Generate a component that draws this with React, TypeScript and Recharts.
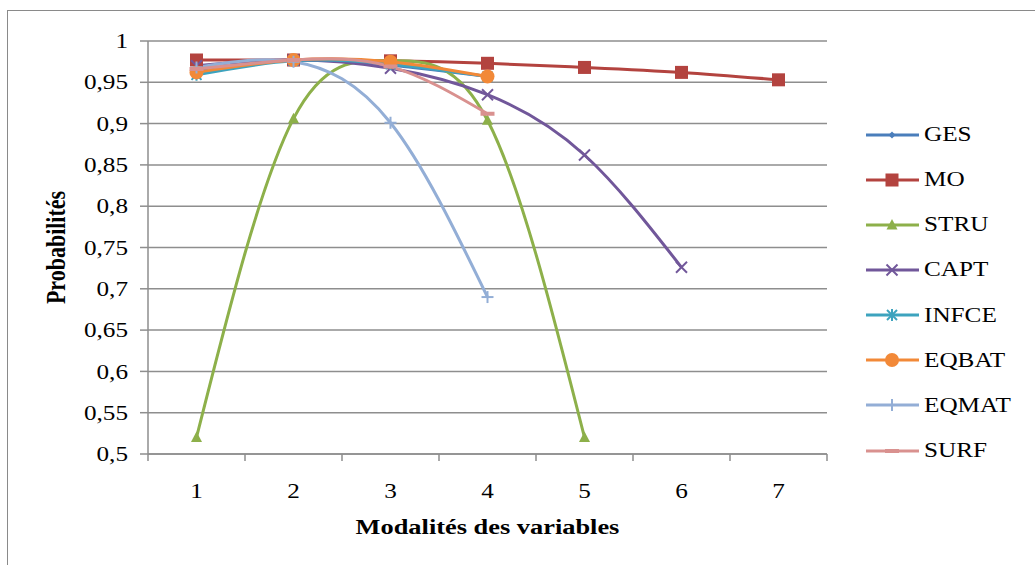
import React from 'react'
import { LineChart, Line, XAxis, YAxis, CartesianGrid } from 'recharts'

// Modalités (x) and probabilities
const modalites = [1, 2, 3, 4, 5, 6, 7]
const ges = [0.963, 0.977, 0.971, 0.957]
const mo = [0.977, 0.977, 0.976, 0.973, 0.968, 0.962, 0.953]
const stru = [0.52, 0.906, 0.976, 0.904, 0.52]
const capt = [0.97, 0.977, 0.967, 0.935, 0.862, 0.726]
const infce = [0.959, 0.976, 0.972, 0.957]
const eqbat = [0.962, 0.977, 0.975, 0.957]
const eqmat = [0.968, 0.975, 0.901, 0.69]
const surf = [0.966, 0.977, 0.969, 0.912]

const yTicks = [0.5, 0.55, 0.6, 0.65, 0.7, 0.75, 0.8, 0.85, 0.9, 0.95, 1]
// integer ticks carry labels, half ticks carry the tick marks between categories
const xTicks = [0.5, 1, 1.5, 2, 2.5, 3, 3.5, 4, 4.5, 5, 5.5, 6, 6.5, 7, 7.5]

const SERIES = [
  { key: 'GES', values: ges, color: '#4A7EBB', marker: 'diamond' },
  { key: 'MO', values: mo, color: '#B3433F', marker: 'square' },
  { key: 'STRU', values: stru, color: '#8DB04A', marker: 'triangle' },
  { key: 'CAPT', values: capt, color: '#71579A', marker: 'x' },
  { key: 'INFCE', values: infce, color: '#3DA3BE', marker: 'star' },
  { key: 'EQBAT', values: eqbat, color: '#F28938', marker: 'circle' },
  { key: 'EQMAT', values: eqmat, color: '#93AED6', marker: 'plus' },
  { key: 'SURF', values: surf, color: '#D9918F', marker: 'dash' },
]

const data = modalites.map((m, i) => {
  const row: Record<string, number | undefined> = { x: m }
  SERIES.forEach(s => {
    row[s.key] = s.values[i]
  })
  return row
})

const FONT = '"Liberation Serif", "Times New Roman", serif'
const GRID = '#8e8e8e'
const STRETCH = 1.2

function Marker({ type, cx, cy, color }: { type: string; cx: number; cy: number; color: string }) {
  switch (type) {
    case 'diamond':
      return <path d={`M${cx},${cy - 3.5}L${cx + 3.5},${cy}L${cx},${cy + 3.5}L${cx - 3.5},${cy}Z`} fill={color} />
    case 'square':
      return <rect x={cx - 6.5} y={cy - 6.5} width={13} height={13} fill={color} />
    case 'triangle':
      return <path d={`M${cx},${cy - 6}L${cx + 5.5},${cy + 4.5}L${cx - 5.5},${cy + 4.5}Z`} fill={color} />
    case 'x':
      return (
        <g stroke={color} strokeWidth={2}>
          <line x1={cx - 5.5} y1={cy - 5.5} x2={cx + 5.5} y2={cy + 5.5} />
          <line x1={cx - 5.5} y1={cy + 5.5} x2={cx + 5.5} y2={cy - 5.5} />
        </g>
      )
    case 'star':
      return (
        <g stroke={color} strokeWidth={2}>
          <line x1={cx - 5} y1={cy - 5} x2={cx + 5} y2={cy + 5} />
          <line x1={cx - 5} y1={cy + 5} x2={cx + 5} y2={cy - 5} />
          <line x1={cx} y1={cy - 6} x2={cx} y2={cy + 6} />
        </g>
      )
    case 'circle':
      return <circle cx={cx} cy={cy} r={7} fill={color} />
    case 'plus':
      return (
        <g stroke={color} strokeWidth={2}>
          <line x1={cx - 6} y1={cy} x2={cx + 6} y2={cy} />
          <line x1={cx} y1={cy - 6} x2={cx} y2={cy + 6} />
        </g>
      )
    case 'dash':
      return <line x1={cx - 7} y1={cy} x2={cx + 7} y2={cy} stroke={color} strokeWidth={4} />
    default:
      return null
  }
}

const makeDot = (type: string, color: string) => (props: any) => {
  const { cx, cy, index, value } = props
  if (value == null || cx == null || cy == null) return <g key={`n-${index}`} />
  return (
    <g key={`d-${index}`}>
      <Marker type={type} cx={cx} cy={cy} color={color} />
    </g>
  )
}

const YTick = (props: any) => {
  const { x, y, payload } = props
  return (
    <g transform={`translate(${x},${y}) scale(${STRETCH},1)`}>
      <text textAnchor="end" dy="0.34em" fontFamily={FONT} fontSize={21} fill="#000">
        {String(payload.value).replace('.', ',')}
      </text>
    </g>
  )
}

const XTick = (props: any) => {
  const { x, y, payload } = props
  if (!Number.isInteger(payload.value)) {
    return <line x1={x} y1={y} x2={x} y2={y + 7} stroke={GRID} strokeWidth={1.5} />
  }
  return (
    <g transform={`translate(${x},${y + 44}) scale(${STRETCH},1)`}>
      <text textAnchor="middle" fontFamily={FONT} fontSize={21} fill="#000">
        {payload.value}
      </text>
    </g>
  )
}

const XTitle = (props: any) => {
  const { viewBox } = props
  const cx = viewBox.x + viewBox.width / 2
  return (
    <g transform={`translate(${cx},534) scale(${STRETCH},1)`}>
      <text textAnchor="middle" fontFamily={FONT} fontSize={22} fontWeight="bold" fill="#000">
        Modalités des variables
      </text>
    </g>
  )
}

const YTitle = (props: any) => {
  const { viewBox } = props
  const cy = viewBox.y + viewBox.height / 2
  return (
    <g transform={`translate(65,${cy}) scale(${STRETCH},1) rotate(-90)`}>
      <text textAnchor="middle" fontFamily={FONT} fontSize={22} fontWeight="bold" fill="#000">
        Probabilités
      </text>
    </g>
  )
}

function LegendBox() {
  return (
    <div style={{ position: 'absolute', left: 866, top: 112, display: 'flex', flexDirection: 'column' }}>
      {SERIES.map(s => (
        <div key={s.key} style={{ height: 45.15, display: 'flex', alignItems: 'center' }}>
          <svg width={54} height={20} style={{ display: 'block' }}>
            <line x1={0} y1={10} x2={53} y2={10} stroke={s.color} strokeWidth={3} />
            <Marker type={s.marker} cx={26} cy={10} color={s.color} />
          </svg>
          <span
            style={{
              fontFamily: FONT,
              fontSize: 21,
              color: '#000',
              marginLeft: 4,
              display: 'inline-block',
              transform: `scaleX(${STRETCH})`,
              transformOrigin: 'left center',
              whiteSpace: 'nowrap',
            }}
          >
            {s.key}
          </span>
        </div>
      ))}
    </div>
  )
}

export default function App() {
  return (
    <div style={{ position: 'absolute', left: 0, top: 0, width: 1035, height: 565, overflow: 'hidden', background: '#fff' }}>
      <div
        style={{
          position: 'absolute',
          left: 7,
          top: 10,
          width: 1100,
          height: 700,
          borderLeft: '1.5px solid #8a8a8a',
          borderTop: '1.5px solid #8a8a8a',
        }}
      />
      <div style={{ position: 'absolute', left: 0, top: 0 }}>
        <LineChart width={1035} height={565} data={data} margin={{ top: 41, right: 208, bottom: 0, left: 0 }}>
          <CartesianGrid vertical={false} stroke={GRID} strokeWidth={1.5} />
          <XAxis
            dataKey="x"
            type="number"
            domain={[0.5, 7.5]}
            ticks={xTicks}
            interval={0}
            tickSize={0}
            tickMargin={0}
            tickLine={false}
            tick={<XTick />}
            axisLine={{ stroke: GRID, strokeWidth: 1.5 }}
            height={111}
            label={{ content: <XTitle /> }}
          />
          <YAxis
            type="number"
            domain={[0.5, 1]}
            ticks={yTicks}
            interval={0}
            width={148}
            tickSize={8}
            tickMargin={12}
            tickLine={{ stroke: GRID, strokeWidth: 1.5 }}
            axisLine={{ stroke: GRID, strokeWidth: 1.5 }}
            tick={<YTick />}
            label={{ content: <YTitle /> }}
            allowDataOverflow
          />
          {SERIES.map(s => (
            <Line
              key={s.key}
              type="natural"
              dataKey={s.key}
              stroke={s.color}
              strokeWidth={3}
              dot={makeDot(s.marker, s.color)}
              activeDot={false}
              isAnimationActive={false}
            />
          ))}
        </LineChart>
      </div>
      <LegendBox />
    </div>
  )
}
